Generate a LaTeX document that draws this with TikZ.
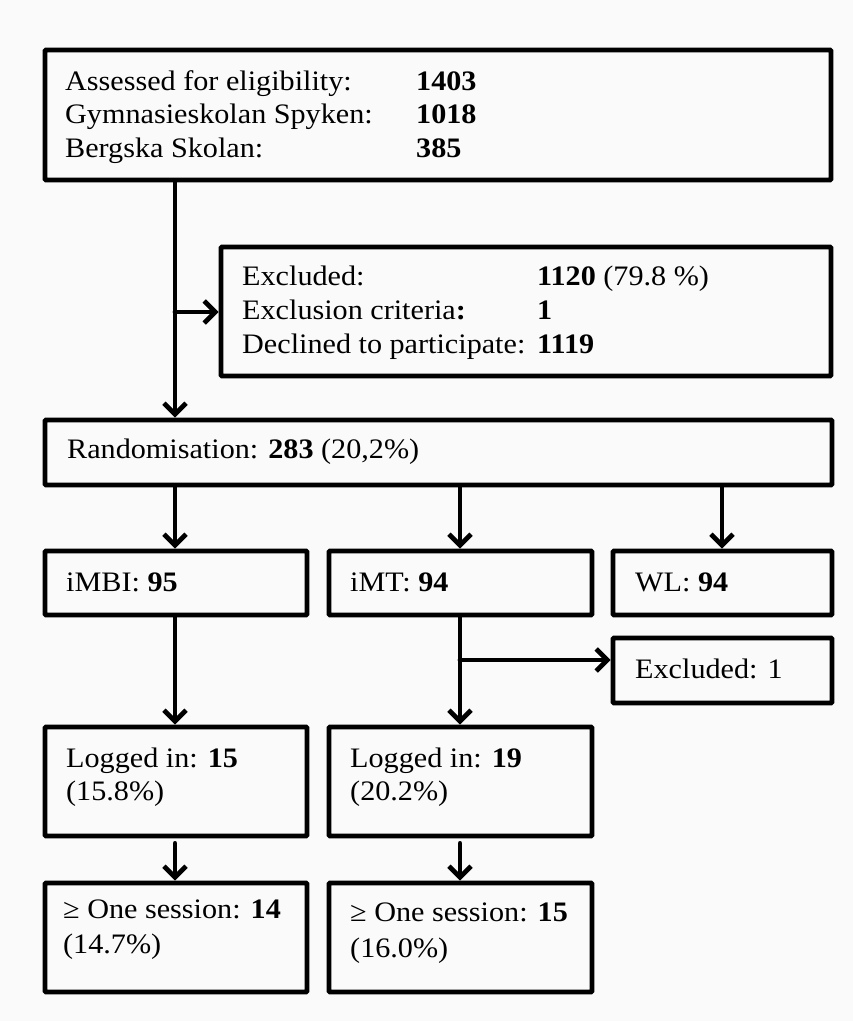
\documentclass[tikz,border=0pt]{standalone}
\usepackage{fontspec}
\setmainfont[FakeStretch=1.07]{Liberation Serif}
\usetikzlibrary{arrows.meta}
\definecolor{bg}{RGB}{250,250,250}
\begin{document}
\begin{tikzpicture}[x=1pt,y=-1pt,
  box/.style={draw, line width=4.8pt, rounded corners=1pt, inner sep=0pt},
  conn/.style={line width=4.8pt, line cap=round, -{Straight Barb[length=11pt,width=22pt]}},
  txt/.style={anchor=base west, inner sep=0pt, font=\fontsize{28.2}{33}\selectfont}
]
\fill[bg] (0,0) rectangle (853,1021);
\useasboundingbox (0,0) rectangle (853,1021);

% boxes
\node[box, minimum width=786, minimum height=130] (top)  at (438,115) {};
\node[box, minimum width=610, minimum height=129] (excl) at (526,311.5) {};
\node[box, minimum width=787, minimum height=65]  (rand) at (438.5,452.5) {};
\node[box, minimum width=262, minimum height=64]  (imbi) at (176,583) {};
\node[box, minimum width=263, minimum height=64]  (imt)  at (460.5,583) {};
\node[box, minimum width=219, minimum height=64]  (wl)   at (722.5,583) {};
\node[box, minimum width=219, minimum height=65]  (exa)  at (722.5,670.5) {};
\node[box, minimum width=262, minimum height=109] (logA) at (176,781.5) {};
\node[box, minimum width=263, minimum height=109] (logB) at (460.5,781.5) {};
\node[box, minimum width=262, minimum height=109] (sesA) at (176,937.5) {};
\node[box, minimum width=263, minimum height=109] (sesB) at (460.5,937.5) {};

% texts
\node[txt] (t1a) at (65,90)  {Assessed for eligibility:};
\node[txt] (t1b) at (416,90) {\textbf{1403}};
\node[txt] (t2a) at (65,123) {Gymnasieskolan Spyken:};
\node[txt] (t2b) at (416,123) {\textbf{1018}};
\node[txt] (t3a) at (65,157) {Bergska Skolan:};
\node[txt] (t3b) at (416,157) {\textbf{385}};

\node[txt] (e1a) at (242,285) {Excluded:};
\node[txt] (e1b) at (537,285) {\textbf{1120} (79.8 \%)};
\node[txt] (e2a) at (242,319) {Exclusion criteria\textbf{:}};
\node[txt] (e2b) at (537,319) {\textbf{1}};
\node[txt] (e3a) at (242,353) {Declined to participate:};
\node[txt] (e3b) at (537,353) {\textbf{1119}};

\node[txt] (rt) at (67,458) {Randomisation: \textbf{283} (20,2\%)};
\node[txt] (it) at (66,591) {iMBI: \textbf{95}};
\node[txt] (mt) at (350,591) {iMT: \textbf{94}};
\node[txt] (wt) at (635,591) {WL: \textbf{94}};
\node[txt] (xt) at (635,678) {Excluded: 1};

\node[txt] (la1) at (66,767) {Logged in: \textbf{15}};
\node[txt] (la2) at (66,800) {(15.8\%)};
\node[txt] (lb1) at (350,767) {Logged in: \textbf{19}};
\node[txt] (lb2) at (350,800) {(20.2\%)};
\node[txt] (sa1) at (63,918) {≥ One session: \textbf{14}};
\node[txt] (sa2) at (63,953) {(14.7\%)};
\node[txt] (sb1) at (350,921) {≥ One session: \textbf{15}};
\node[txt] (sb2) at (350,957) {(16.0\%)};

% connectors
\coordinate (colA) at (175,0);
\coordinate (colB) at (460,0);
\coordinate (colC) at (722,0);
\coordinate (brA) at (175,312);
\coordinate (brB) at (460,660);

\draw[conn] (top.south -| colA) -- (rand.north -| colA);
\draw[conn] (brA) -- (brA -| excl.west);
\draw[conn] (rand.south -| colA) -- (imbi.north -| colA);
\draw[conn] (rand.south -| colB) -- (imt.north -| colB);
\draw[conn] (rand.south -| colC) -- (wl.north -| colC);
\draw[conn] (imbi.south -| colA) -- (logA.north -| colA);
\draw[conn] (imt.south -| colB) -- (logB.north -| colB);
\draw[conn] (brB) -- (brB -| exa.west);
\draw[conn, shorten <=5pt] (logA.south -| colA) -- (sesA.north -| colA);
\draw[conn, shorten <=5pt] (logB.south -| colB) -- (sesB.north -| colB);
\end{tikzpicture}
\end{document}
